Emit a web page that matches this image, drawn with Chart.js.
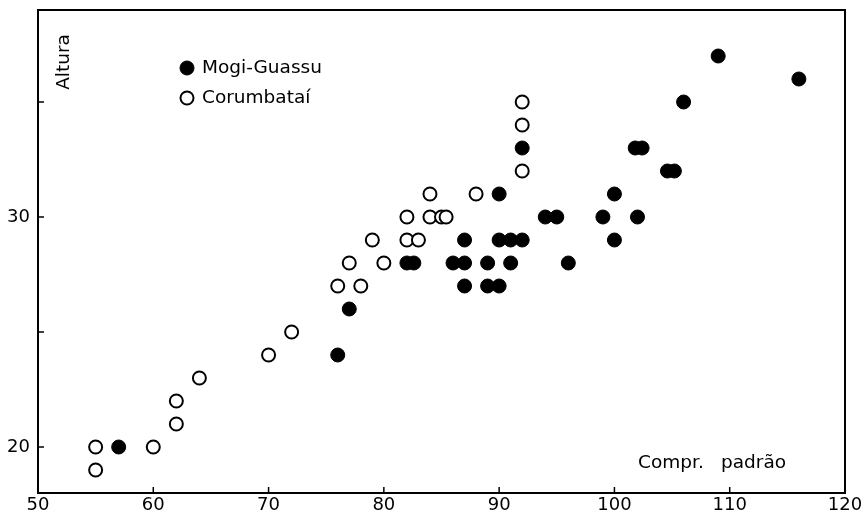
<!DOCTYPE html>
<html lang="pt">
<head>
    <meta charset="UTF-8">
    <title>Altura x Compr. padrão</title>
    <script src="https://cdn.jsdelivr.net/npm/chart.js"></script>
    <style>
        body {
            margin: 0;
            background: #ffffff;
        }
        #wrap {
            width: 862px;
            height: 518px;
        }
    </style>
</head>
<body>
    <div id="wrap"><canvas id="chart" width="862" height="518"></canvas></div>

    <script>
        // Mogi-Guassu (filled circles): [compr. padrao, altura]
        const mogiX = [57, 76, 77, 82, 82.6, 86, 87, 89, 91, 96, 87, 89, 90, 87, 90, 91, 92,
                       94, 95, 99, 102, 90, 100, 100, 92, 101.8, 102.4, 104.6, 105.2, 106, 109, 116];
        const mogiY = [20, 24, 26, 28, 28, 28, 28, 28, 28, 28, 27, 27, 27, 29, 29, 29, 29,
                       30, 30, 30, 30, 31, 31, 29, 33, 33, 33, 32, 32, 35, 37, 36];

        // Corumbatai (open circles)
        const corX = [55, 55, 60, 62, 62, 64, 70, 72, 76, 78, 77, 80, 79, 82, 83,
                      82, 84, 85, 85.4, 84, 88, 92, 92, 92];
        const corY = [20, 19, 20, 21, 22, 23, 24, 25, 27, 27, 28, 28, 29, 29, 29,
                      30, 30, 30, 30, 31, 31, 32, 34, 35];

        const xTicks = [50, 60, 70, 80, 90, 100, 110, 120];
        const yTicks = [20, 25, 30, 35];
        const yLabels = [20, 30];

        const FONT = "'DejaVu Sans', sans-serif";

        function toPoints(xs, ys) {
            return xs.map((x, i) => ({ x: x, y: ys[i] }));
        }

        // frame, inward ticks, legend and axis titles
        const framePlugin = {
            id: 'frame',
            afterDraw(chart) {
                const ctx = chart.ctx;
                const a = chart.chartArea;
                const xs = chart.scales.x;
                const ys = chart.scales.y;
                ctx.save();
                ctx.strokeStyle = '#000';
                ctx.lineWidth = 2;
                ctx.strokeRect(a.left, a.top, a.right - a.left, a.bottom - a.top);

                ctx.lineWidth = 1.5;
                ctx.beginPath();
                xTicks.forEach(v => {
                    const px = xs.getPixelForValue(v);
                    ctx.moveTo(px, a.bottom);
                    ctx.lineTo(px, a.bottom - 6);
                });
                yTicks.forEach(v => {
                    const py = ys.getPixelForValue(v);
                    ctx.moveTo(a.left, py);
                    ctx.lineTo(a.left + 6, py);
                });
                ctx.stroke();

                // legend
                ctx.font = '18.5px ' + FONT;
                ctx.textBaseline = 'middle';
                ctx.textAlign = 'left';
                chart.data.datasets.forEach((ds, i) => {
                    const cx = a.left + 149;
                    const cy = a.top + 58 + i * 30;
                    ctx.beginPath();
                    ctx.arc(cx, cy, ds.pointRadius, 0, Math.PI * 2);
                    ctx.fillStyle = ds.backgroundColor;
                    ctx.fill();
                    ctx.lineWidth = ds.borderWidth;
                    ctx.strokeStyle = ds.borderColor;
                    ctx.stroke();
                    ctx.fillStyle = '#000';
                    ctx.fillText(ds.label, cx + 15, cy);
                });

                // axis titles inside the plot
                ctx.fillStyle = '#000';
                ctx.fillText('Compr.', 638, 463);
                ctx.fillText('padrão', 721, 463);

                ctx.translate(64, 62);
                ctx.rotate(-Math.PI / 2);
                ctx.textAlign = 'center';
                ctx.fillText('Altura', 0, 0);
                ctx.restore();
            }
        };

        new Chart(document.getElementById('chart'), {
            type: 'scatter',
            data: {
                datasets: [
                    {
                        label: 'Mogi-Guassu',
                        data: toPoints(mogiX, mogiY),
                        pointRadius: 7,
                        backgroundColor: '#000',
                        borderColor: '#000',
                        borderWidth: 1
                    },
                    {
                        label: 'Corumbataí',
                        data: toPoints(corX, corY),
                        pointRadius: 6.5,
                        backgroundColor: '#fff',
                        borderColor: '#000',
                        borderWidth: 2
                    }
                ]
            },
            options: {
                responsive: false,
                animation: false,
                layout: {
                    padding: { left: 0, top: 10, right: 0, bottom: 0 }
                },
                plugins: {
                    legend: { display: false },
                    tooltip: { enabled: false }
                },
                scales: {
                    x: {
                        type: 'linear',
                        min: 50,
                        max: 120,
                        afterBuildTicks: s => { s.ticks = xTicks.map(v => ({ value: v })); },
                        afterFit: s => {
                            s.height = 25;
                            s.paddingLeft = 0;
                            s.paddingRight = 17;
                        },
                        grid: { display: false, drawTicks: false },
                        border: { display: false },
                        ticks: {
                            color: '#000',
                            padding: 2,
                            maxRotation: 0,
                            font: { family: FONT, size: 18 }
                        }
                    },
                    y: {
                        type: 'linear',
                        min: 18,
                        max: 39,
                        afterBuildTicks: s => { s.ticks = yTicks.map(v => ({ value: v })); },
                        afterFit: s => {
                            s.width = 38;
                            s.paddingTop = 0;
                            s.paddingBottom = 0;
                        },
                        grid: { display: false, drawTicks: false },
                        border: { display: false },
                        ticks: {
                            color: '#000',
                            padding: 8,
                            font: { family: FONT, size: 18 },
                            callback: v => yLabels.includes(v) ? String(v) : ''
                        }
                    }
                }
            },
            plugins: [framePlugin]
        });
    </script>
</body>
</html>
